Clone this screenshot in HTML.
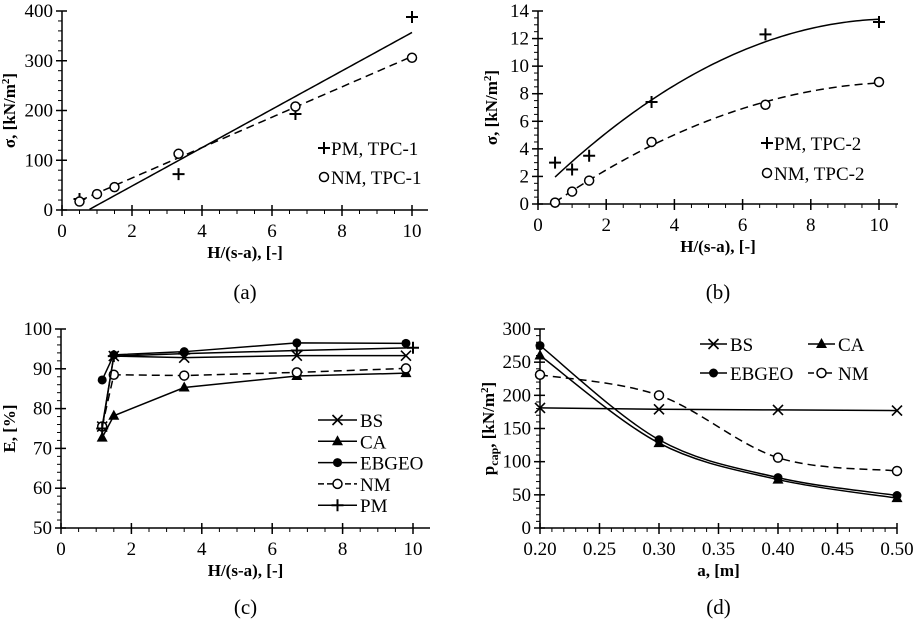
<!DOCTYPE html>
<html><head><meta charset="utf-8"><style>
html,body{margin:0;padding:0;background:#fff}
svg{display:block}
svg text{font-family:"Liberation Serif","Times New Roman",serif}
</style></head><body>
<svg id="fig" width="913" height="622" viewBox="0 0 913 622" font-family="Liberation Serif, serif"></svg>
<script>
// ---- data ----
const aPMx=[0.5,3.33,6.67,10], aPMy=[22,72,193,388];
const aNMx=[0.5,1,1.5,3.33,6.67,10], aNMy=[17,32,46,113,208,306];
const bPMx=[0.5,1,1.5,3.33,6.67,10], bPMy=[3,2.5,3.5,7.4,12.3,13.2];
const bNMx=[0.5,1,1.5,3.33,6.67,10], bNMy=[0.1,0.9,1.7,4.5,7.2,8.85];
const cBSx=[1.17,1.5,3.5,6.7,9.8], cBSy=[75.5,93.2,92.8,93.3,93.3];
const cCAx=[1.17,1.5,3.5,6.7,9.8], cCAy=[72.7,78.2,85.3,88.2,88.9];
const cEBx=[1.17,1.5,3.5,6.7,9.8], cEBy=[87.2,93.5,94.3,96.5,96.4];
const cNMx=[1.17,1.5,3.5,6.7,9.8], cNMy=[75.5,88.5,88.3,89.1,90.1];
const cPMx=[1.17,1.5,3.5,6.7,10], cPMy=[75,93.2,93.8,94.6,95.3];
const dX=[0.2,0.3,0.4,0.5];
const dBS=[181,179,178,177], dCA=[260,128,73,45], dEB=[275,133,76,49], dNM=[231,200,106,86];
const aXt=[0,2,4,6,8,10], aYt=[0,100,200,300,400];
const bYt=[0,2,4,6,8,10,12,14];
const cYt=[50,60,70,80,90,100];
const dXt=[0.2,0.25,0.3,0.35,0.4,0.45,0.5], dYt=[0,50,100,150,200,250,300];

const NS="http://www.w3.org/2000/svg", svg=document.getElementById('fig');
const FF='"Liberation Serif", serif';
function el(t,a,p){const e=document.createElementNS(NS,t);for(const k in a)e.setAttribute(k,a[k]);if(t==='text')e.setAttribute('font-family',FF);(p||svg).appendChild(e);return e;}
function txt(s,a,p){const e=el('text',a,p);e.textContent=s;return e;}

function chart(o){
  const g=el('g',{});
  
  
  const sx=v=>o.x0+(v-o.xmin)/(o.xmax-o.xmin)*(o.x1-o.x0);
  const sy=v=>o.y0-(v-o.ymin)/(o.ymax-o.ymin)*(o.y0-o.y1);
  const ax=el('line',{x1:o.x0,y1:o.y0,x2:o.xr,y2:o.y0,stroke:'#000','stroke-width':1.5},g);
  
  const ay=el('line',{x1:o.x0,y1:o.y0,x2:o.x0,y2:o.y1,stroke:'#000','stroke-width':1.5},g);
  
  for(let v=o.xmin;v<=o.xmaxT+1e-9;v+=o.xminor){const X=sx(v);el('line',{x1:X,y1:o.y0,x2:X,y2:o.y0+4,stroke:'#000','stroke-width':1},g);}
  for(let v=o.ymin;v<=o.ymax+1e-9;v+=o.yminor){const Y=sy(v);el('line',{x1:o.x0-4,y1:Y,x2:o.x0,y2:Y,stroke:'#000','stroke-width':1},g);}
  o.xt.forEach(v=>{const X=sx(v);el('line',{x1:X,y1:o.y0-5,x2:X,y2:o.y0+6,stroke:'#000','stroke-width':1.5},g);
    const t=txt(o.xf?o.xf(v):String(v),{x:X,y:o.y0+27,'text-anchor':'middle','font-size':19},g);
    });
  o.yt.forEach(v=>{const Y=sy(v);el('line',{x1:o.x0-6,y1:Y,x2:o.x0+5,y2:Y,stroke:'#000','stroke-width':1.5},g);
    const t=txt(String(v),{x:o.x0-9,y:Y+6,'text-anchor':'end','font-size':19},g);
    });
  const xt=txt(o.xtitle,{x:(o.x0+o.xr)/2,y:o.y0+48,'text-anchor':'middle','font-size':17,'font-weight':'bold'},g);
  
  const yt=el('text',{x:0,y:0,'text-anchor':'middle','font-size':17,'font-weight':'bold',transform:`translate(${o.ytx},${(o.y0+o.y1)/2}) rotate(-90)`},g);
  yt.innerHTML=o.ytitle;
  
  const cap=txt(o.cap,{x:(o.x0+o.xr)/2,y:o.capy,'text-anchor':'middle','font-size':21},g);
  
  return {g,sx,sy};
}
function marker(type,X,Y,p){
  let m;
  if(type==='plus'){m=el('path',{d:`M${X-6},${Y}h12M${X},${Y-6}v12`,stroke:'#000','stroke-width':2},p);}
  else if(type==='x'){m=el('path',{d:`M${X-5},${Y-5}l10,10M${X-5},${Y+5}l10,-10`,stroke:'#000','stroke-width':1.6},p);}
  else if(type==='ocirc'){m=el('circle',{cx:X,cy:Y,r:4.5,fill:'#fff',stroke:'#000','stroke-width':1.5},p);}
  else if(type==='dot'){m=el('circle',{cx:X,cy:Y,r:4.5,fill:'#000'},p);}
  else if(type==='tri'){m=el('path',{d:`M${X},${Y-6}L${X+5.5},${Y+4}L${X-5.5},${Y+4}Z`,fill:'#000'},p);}
  
  return m;
}
function polyfit(xs,ys,deg){
  const n=deg+1,A=[],b=[];
  for(let i=0;i<n;i++){A.push([]);for(let j=0;j<n;j++){A[i].push(xs.reduce((s,x)=>s+Math.pow(x,i+j),0));}
    b.push(xs.reduce((s,x,k)=>s+Math.pow(x,i)*ys[k],0));}
  for(let i=0;i<n;i++){let p=i;for(let r=i+1;r<n;r++)if(Math.abs(A[r][i])>Math.abs(A[p][i]))p=r;
    [A[i],A[p]]=[A[p],A[i]];[b[i],b[p]]=[b[p],b[i]];
    for(let r=0;r<n;r++)if(r!==i){const f=A[r][i]/A[i][i];for(let c=i;c<n;c++)A[r][c]-=f*A[i][c];b[r]-=f*b[i];}}
  return b.map((v,i)=>v/A[i][i]);
}
function trend(ch,xs,ys,deg,dash,name,clampZero){
  const c=polyfit(xs,ys,deg),f=x=>c.reduce((s,v,i)=>s+v*Math.pow(x,i),0);
  let d='',started=false;
  for(let i=0;i<=100;i++){const x=xs[0]+(xs[xs.length-1]-xs[0])*i/100;const y=f(x);
    if(clampZero&&y<0)continue;d+=(started?'L':'M')+ch.sx(x).toFixed(2)+','+ch.sy(y).toFixed(2);started=true;}
  const p=el('path',{d,fill:'none',stroke:'#000','stroke-width':1.5,'stroke-dasharray':dash?'8,5':'none'},ch.g);
  
}
function series(ch,xs,ys,type,dash,name,smooth){
  const P=xs.map((x,i)=>[ch.sx(x),ch.sy(ys[i])]);
  let d='M'+P[0].join(',');
  if(smooth){for(let i=0;i<P.length-1;i++){const p0=P[Math.max(0,i-1)],p1=P[i],p2=P[i+1],p3=P[Math.min(P.length-1,i+2)];
      const c1=[p1[0]+(p2[0]-p0[0])/6,p1[1]+(p2[1]-p0[1])/6],c2=[p2[0]-(p3[0]-p1[0])/6,p2[1]-(p3[1]-p1[1])/6];
      d+=`C${c1.join(',')} ${c2.join(',')} ${p2.join(',')}`;}}
  else P.slice(1).forEach(p=>d+='L'+p.join(','));
  const g=el('g',{},ch.g);
  
  el('path',{d,fill:'none',stroke:'#000','stroke-width':1.5,'stroke-dasharray':dash?'8,5':'none'},g);
  P.forEach(p=>marker(type,p[0],p[1],g));
}
function scatter(ch,xs,ys,type,name){
  const g=el('g',{},ch.g);
  xs.forEach((x,i)=>marker(type,ch.sx(x),ch.sy(ys[i]),g));
}
function legend(ch,x,y,type,label,lineLen,dash){
  const g=el('g',{},ch.g);
  if(lineLen){el('line',{x1:x,y1:y,x2:x+lineLen,y2:y,stroke:'#000','stroke-width':1.5,'stroke-dasharray':dash?'6,3':'none'},g);marker(type,x+lineLen/2,y,g);
    txt(label,{x:x+lineLen+3,y:y+7,'font-size':19},g);}
  else {marker(type,x,y,g);txt(label,{x:x+7,y:y+7,'font-size':19},g);}
}
const ytA='σ, [kN/m<tspan dy="-6" font-size="11">2</tspan><tspan dy="6">]</tspan>';
// (a)
const A=chart({name:'chart-a',x0:62,x1:412,xr:428,xmin:0,xmax:10,xmaxT:10.4,xminor:0.5,y0:210,y1:11,ymin:0,ymax:400,yminor:20,
  xt:aXt,yt:aYt,xtitle:'H/(s-a), [-]',ytitle:ytA,ytx:15,cap:'(a)',capy:299});
trend(A,aPMx,aPMy,1,false,'pm-trendline',true);
trend(A,aNMx,aNMy,1,true,'nm-trendline',false);
scatter(A,aPMx,aPMy,'plus','pm-tpc1-points');
scatter(A,aNMx,aNMy,'ocirc','nm-tpc1-points');
legend(A,324,148,'plus','PM, TPC-1');legend(A,324,177,'ocirc','NM, TPC-1');
// (b)
const B=chart({name:'chart-b',x0:538,x1:879,xr:898,xmin:0,xmax:10,xmaxT:10.5,xminor:0.5,y0:204,y1:11,ymin:0,ymax:14,yminor:0.5,
  xt:aXt,yt:bYt,xtitle:'H/(s-a), [-]',ytitle:ytA,ytx:497,cap:'(b)',capy:299});
trend(B,bPMx,bPMy,2,false,'pm-trendline');
trend(B,bNMx,bNMy,2,true,'nm-trendline');
scatter(B,bPMx,bPMy,'plus','pm-tpc2-points');
scatter(B,bNMx,bNMy,'ocirc','nm-tpc2-points');
legend(B,767,143,'plus','PM, TPC-2');legend(B,767,173,'ocirc','NM, TPC-2');
// (c)
const C=chart({name:'chart-c',x0:61,x1:413,xr:430,xmin:0,xmax:10,xmaxT:10.4,xminor:0.5,y0:528,y1:329,ymin:50,ymax:100,yminor:2,
  xt:aXt,yt:cYt,xtitle:'H/(s-a), [-]',ytitle:'E, [%]',ytx:15,cap:'(c)',capy:614});
series(C,cBSx,cBSy,'x',false,'bs-series');
series(C,cCAx,cCAy,'tri',false,'ca-series');
series(C,cEBx,cEBy,'dot',false,'ebgeo-series');
series(C,cNMx,cNMy,'ocirc',true,'nm-series');
series(C,cPMx,cPMy,'plus',false,'pm-series');
[['x','BS'],['tri','CA'],['dot','EBGEO'],['ocirc','NM'],['plus','PM']].forEach((e,i)=>legend(C,318,420+i*21.3,e[0],e[1],39,e[1]==='NM'));
// (d)
const D=chart({name:'chart-d',x0:540,x1:897,xr:897,xmin:0.2,xmax:0.5,xmaxT:0.5,xminor:0.01,y0:528,y1:329,ymin:0,ymax:300,yminor:10,
  xt:dXt,yt:dYt,xf:v=>v.toFixed(2),xtitle:'a, [m]',ytitle:'p<tspan dy="4" font-size="12">cap</tspan><tspan dy="-4">, [kN/m</tspan><tspan dy="-6" font-size="11">2</tspan><tspan dy="6">]</tspan>',ytx:494,cap:'(d)',capy:614});
series(D,dX,dBS,'x',false,'bs-series');
series(D,dX,dCA,'tri',false,'ca-series',true);
series(D,dX,dEB,'dot',false,'ebgeo-series',true);
series(D,dX,dNM,'ocirc',true,'nm-series',true);
legend(D,700,344,'x','BS',27);legend(D,808,344,'tri','CA',27);
legend(D,700,373,'dot','EBGEO',27);legend(D,808,373,'ocirc','NM',27,true);
</script>
</body></html>
